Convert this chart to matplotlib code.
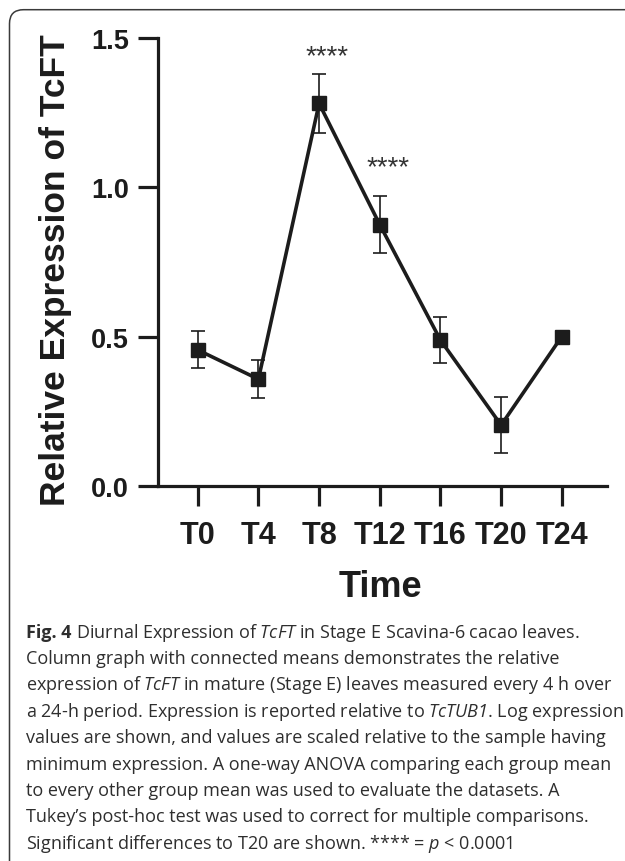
"""Diurnal TcFT expression figure with its caption, redrawn as a single panel."""

import matplotlib
matplotlib.use("Agg")
import matplotlib.pyplot as plt
from matplotlib.patches import FancyBboxPatch
from matplotlib.transforms import IdentityTransform

# ---- data ----
times = ["T0", "T4", "T8", "T12", "T16", "T20", "T24"]
means = [0.455, 0.357, 1.281, 0.875, 0.488, 0.203, 0.500]
sems = [0.062, 0.064, 0.098, 0.096, 0.076, 0.093, 0.015]
yticks = [0.0, 0.5, 1.0, 1.5]
star_idx = [2, 3]
star_text = ["****", "****"]
star_lift = [8, 16]            # points above the error-bar cap

caption_lead = "Fig. 4"
caption = [
    r"Diurnal Expression of $\mathit{TcFT}$ in Stage E Scavina-6 cacao leaves.",
    "Column graph with connected means demonstrates the relative",
    r"expression of $\mathit{TcFT}$ in mature (Stage E) leaves measured every 4 h over",
    r"a 24-h period. Expression is reported relative to $\mathit{TcTUB1}$. Log expression",
    "values are shown, and values are scaled relative to the sample having",
    "minimum expression. A one-way ANOVA comparing each group mean",
    "to every other group mean was used to evaluate the datasets. A",
    "Tukey\u2019s post-hoc test was used to correct for multiple comparisons.",
    r"Significant differences to T20 are shown. **** = $\mathit{p}$ < 0.0001",
]

INK = "#1c1c1c"
CHART_FONT = ["Liberation Sans", "DejaVu Sans"]
CAP_FONT = ["Open Sans", "DejaVu Sans"]

plt.rcParams["mathtext.fontset"] = "custom"
plt.rcParams["mathtext.rm"] = "Open Sans:italic"   # digits inside \mathit stay slanted
plt.rcParams["mathtext.it"] = "Open Sans:italic"
plt.rcParams["mathtext.bf"] = "Open Sans:bold"

W, H = 625, 862
fig = plt.figure(figsize=(W / 100, H / 100), dpi=100)

# rounded frame, running off the right and bottom edges
frame = FancyBboxPatch((9.5, -30), 700, H - 10.7 + 30,
                       boxstyle="round,pad=0,rounding_size=14",
                       transform=IdentityTransform(), fill=False,
                       lw=1.1, ec="#3a3a3a")
fig.add_artist(frame)

ax = fig.add_axes([158 / W, 1 - 486.7 / H, (606.7 - 158) / W, (486.7 - 39.1) / H])
x = list(range(len(times)))
ax.errorbar(x, means, yerr=sems, fmt="none", ecolor=INK, elinewidth=1.2,
            capsize=5, capthick=1.2, zorder=2)
ax.plot(x, means, color=INK, lw=2.6, marker="s", ms=10.5, mfc=INK, mec=INK,
        zorder=3)

for i, s, lift in zip(star_idx, star_text, star_lift):
    ax.annotate(s, xy=(i, means[i] + sems[i]), xytext=(6, lift),
                textcoords="offset points", ha="center", va="baseline",
                fontsize=20, color="#333333", family=CHART_FONT)

ax.set_xlim(-0.655, 6.74)
ax.set_ylim(0, 1.5)
ax.set_xticks(x)
ax.set_xticklabels(times)
ax.set_yticks(yticks)
ax.set_yticklabels([f"{v:.1f}" for v in yticks])
for side in ("top", "right"):
    ax.spines[side].set_visible(False)
for side in ("left", "bottom"):
    ax.spines[side].set_linewidth(2.3)
    ax.spines[side].set_color(INK)
ax.tick_params(axis="both", length=14.4, width=2.3, color=INK, labelcolor=INK)
ax.tick_params(axis="x", pad=10)
ax.tick_params(axis="y", pad=6.5)
for lab in ax.get_xticklabels():
    lab.set_fontsize(22)
    lab.set_fontweight("bold")
    lab.set_family(CHART_FONT)
for lab in ax.get_yticklabels():
    lab.set_fontsize(19.5)
    lab.set_fontweight("bold")
    lab.set_family(CHART_FONT)

fig.text(65 / W, 1 - 270.5 / H, "Relative Expression of TcFT", rotation=90,
         rotation_mode="anchor", ha="center", va="baseline", fontsize=25.5,
         fontweight="bold", color=INK, family=CHART_FONT)
fig.text(380 / W, 1 - 597 / H, "Time", ha="center", va="baseline",
         fontsize=26, fontweight="bold", color=INK, family=CHART_FONT)

# caption: bold lead-in, then the running text line by line
cap_x = 26
lead = fig.text(cap_x / W, 1 - 637.7 / H, caption_lead, ha="left", va="baseline",
                fontsize=13, fontweight="bold", color="#2e2e2e", family=CAP_FONT)
lead_end = lead.get_window_extent(fig.canvas.get_renderer()).x1
for k, line in enumerate(caption):
    x0 = lead_end + 4.5 if k == 0 else cap_x
    fig.text(x0 / W, 1 - (637.7 + 26.4 * k) / H, line, ha="left", va="baseline",
             fontsize=13, color="#2e2e2e", family=CAP_FONT)

fig.savefig("out.png", dpi=100)
